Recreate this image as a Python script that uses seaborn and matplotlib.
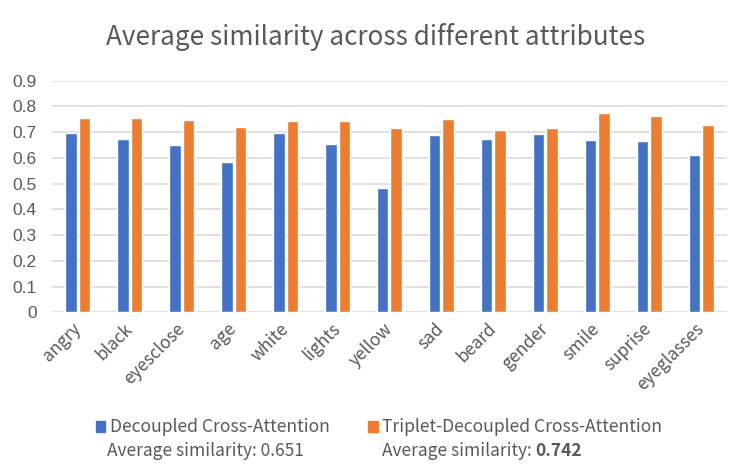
import pandas as pd
import seaborn as sns
import matplotlib.pyplot as plt
from matplotlib.patches import Patch

attributes = ['angry', 'black', 'eyesclose', 'age', 'white', 'lights', 'yellow',
              'sad', 'beard', 'gender', 'smile', 'suprise', 'eyeglasses']
decoupled = [0.698, 0.674, 0.650, 0.584, 0.698, 0.654, 0.483,
             0.689, 0.674, 0.693, 0.670, 0.666, 0.611]
triplet = [0.755, 0.755, 0.747, 0.720, 0.744, 0.744, 0.716,
           0.751, 0.709, 0.716, 0.775, 0.763, 0.728]
series_names = ['Decoupled Cross-Attention', 'Triplet-Decoupled Cross-Attention']
avg_labels = ['0.651', '0.742']
yticks = [0, 0.1, 0.2, 0.3, 0.4, 0.5, 0.6, 0.7, 0.8, 0.9]

df = pd.DataFrame({'attribute': attributes, series_names[0]: decoupled, series_names[1]: triplet})
df = df.melt(id_vars='attribute', var_name='model', value_name='similarity')

sns.set_style('white')
plt.rcParams['font.family'] = ['Noto Sans CJK SC', 'DejaVu Sans']
grey = '#595959'
colors = ['#4472C4', '#ED7D31']

fig = plt.figure(figsize=(7.5, 4.74), dpi=100)
ax = fig.add_axes([0.0693, 0.3411, 0.9, 0.4886])

sns.barplot(data=df, x='attribute', y='similarity', hue='model', palette=colors,
            width=0.52, gap=0.15, legend=False, ax=ax, saturation=1)

ax.set_ylim(0, 0.9)
ax.set_yticks(yticks)
ax.set_yticklabels(['0'] + ['%.1f' % v for v in yticks[1:]],
                   family='Liberation Sans', fontsize=12.5)
ax.set_xlim(-0.5, len(attributes) - 0.5)
ax.yaxis.grid(True, color='#d9d9d9', linewidth=1.1)
ax.set_axisbelow(True)
for s in ax.spines.values():
    s.set_visible(False)
ax.tick_params(axis='both', length=0, colors=grey)
ax.tick_params(axis='y', pad=11)
ax.tick_params(axis='x', pad=10, labelsize=12.5)
plt.setp(ax.get_xticklabels(), rotation=45, ha='right', va='center',
         rotation_mode='anchor')
ax.set_xlabel('')
ax.set_ylabel('')

fig.text(0.501, 0.921, 'Average similarity across different attributes',
         ha='center', va='center', fontsize=18.8, color=grey)

handles = [Patch(color=c) for c in colors]
ax.legend(handles, series_names, loc='center', bbox_to_anchor=(0.505, 0.0985),
          bbox_transform=fig.transFigure, ncol=2, frameon=False, fontsize=12.6,
          labelcolor=grey, handlelength=0.55, handleheight=0.6, handletextpad=0.25,
          columnspacing=2.2)

# average similarity lines under each legend entry
t1 = fig.text(107 / 750, 1 - 451 / 474, 'Average similarity: ' + avg_labels[0],
              ha='left', va='center', fontsize=12.5, color=grey)
t2 = fig.text(382 / 750, 1 - 451 / 474, 'Average similarity: ',
              ha='left', va='center', fontsize=12.5, color=grey)
fig.canvas.draw()
bb = t2.get_window_extent()
x_end = bb.x1 / fig.bbox.width
fig.text(x_end, 1 - 451 / 474, avg_labels[1], ha='left', va='center',
         fontsize=12.5, color=grey, fontweight='bold')

fig.savefig('out.png', dpi=100)
